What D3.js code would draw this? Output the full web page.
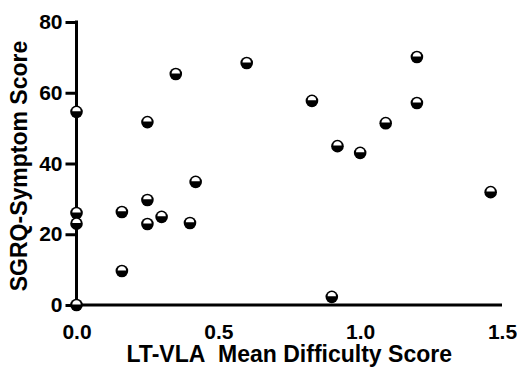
<!DOCTYPE html>
<html>
<head>
<meta charset="utf-8">
<script src="https://cdn.jsdelivr.net/npm/d3@7/dist/d3.min.js"></script>
<style>
  html, body { margin: 0; padding: 0; background: #fff; }
  svg { display: block; }
  text { font-family: "Liberation Sans", Arial, sans-serif; font-weight: bold; fill: #000; }
</style>
</head>
<body>
<svg id="chart" width="517" height="367"></svg>
<script>
// Data
const xValues = [0, 0, 0, 0, 0.16, 0.16, 0.25, 0.25, 0.30, 0.25, 0.35, 0.42, 0.40, 0.60, 0.83, 0.92, 1.0, 1.09, 1.20, 1.20, 1.46, 0.90];
const yValues = [54.6, 26.0, 23.0, 0.0, 26.3, 9.6, 29.7, 22.9, 24.9, 51.7, 65.3, 34.8, 23.2, 68.4, 57.7, 44.9, 43.0, 51.4, 70.1, 57.1, 31.9, 2.3];
const xTicks = [0, 0.5, 1.0, 1.5];
const yTicks = [0, 20, 40, 60, 80];
const xTitle = "LT-VLA\u00a0\u00a0Mean Difficulty Score";
const yTitle = "SGRQ-Symptom Score";

const svg = d3.select("#chart");
const x = d3.scaleLinear().domain([0, 1.5]).range([76.5, 502]);
const y = d3.scaleLinear().domain([0, 80]).range([305, 22]);

// Y axis
const yAxis = svg.append("g")
  .attr("transform", `translate(${x(0)},0)`)
  .call(d3.axisLeft(y).tickValues(yTicks).tickFormat(d3.format("d")).tickSize(11).tickPadding(3));
yAxis.select(".domain").attr("stroke", "#000").attr("stroke-width", 3).attr("d", `M0,${y(80)-1.5}V${y(0)}`);
yAxis.selectAll(".tick line").attr("stroke", "#000").attr("stroke-width", 3);
yAxis.selectAll(".tick text").style("font-size", "21px").style("font-family", "Liberation Sans, Arial, sans-serif").style("font-weight", "bold").attr("fill", "#000");

// X axis (no tick marks)
const xAxis = svg.append("g")
  .attr("transform", `translate(0,${y(0)})`)
  .call(d3.axisBottom(x).tickValues(xTicks).tickFormat(d3.format(".1f")).tickSize(0).tickPadding(19));
xAxis.select(".domain").attr("stroke", "#000").attr("stroke-width", 3).attr("d", `M${x(0)-1.5},0H${x(1.5)}`);
xAxis.selectAll(".tick text").style("font-size", "21px").style("font-family", "Liberation Sans, Arial, sans-serif").style("font-weight", "bold").attr("fill", "#000");

// Titles
svg.append("text")
  .attr("x", (x(0) + x(1.5)) / 2 + 0)
  .attr("y", 362)
  .attr("text-anchor", "middle")
  .style("font-size", "23px")
  .text(xTitle);

svg.append("text")
  .attr("transform", `translate(27,${166}) rotate(-90)`)
  .attr("text-anchor", "middle")
  .style("font-size", "23px")
  .text(yTitle);

// Points: black circle with white upper half
const pts = xValues.map((v, i) => ({ x: v, y: yValues[i] }));
const g = svg.append("g");
const r = 6.3;
const node = g.selectAll("g.pt").data(pts).join("g")
  .attr("class", "pt")
  .attr("transform", d => `translate(${x(d.x)},${y(d.y)})`);
node.append("circle").attr("r", r).attr("fill", "#000");
const ri = 4.2;
node.append("path")
  .attr("d", `M${-ri},-0.6 A${ri},${ri} 0 0 1 ${ri},-0.6 Z`)
  .attr("fill", "#fff");
</script>
</body>
</html>
